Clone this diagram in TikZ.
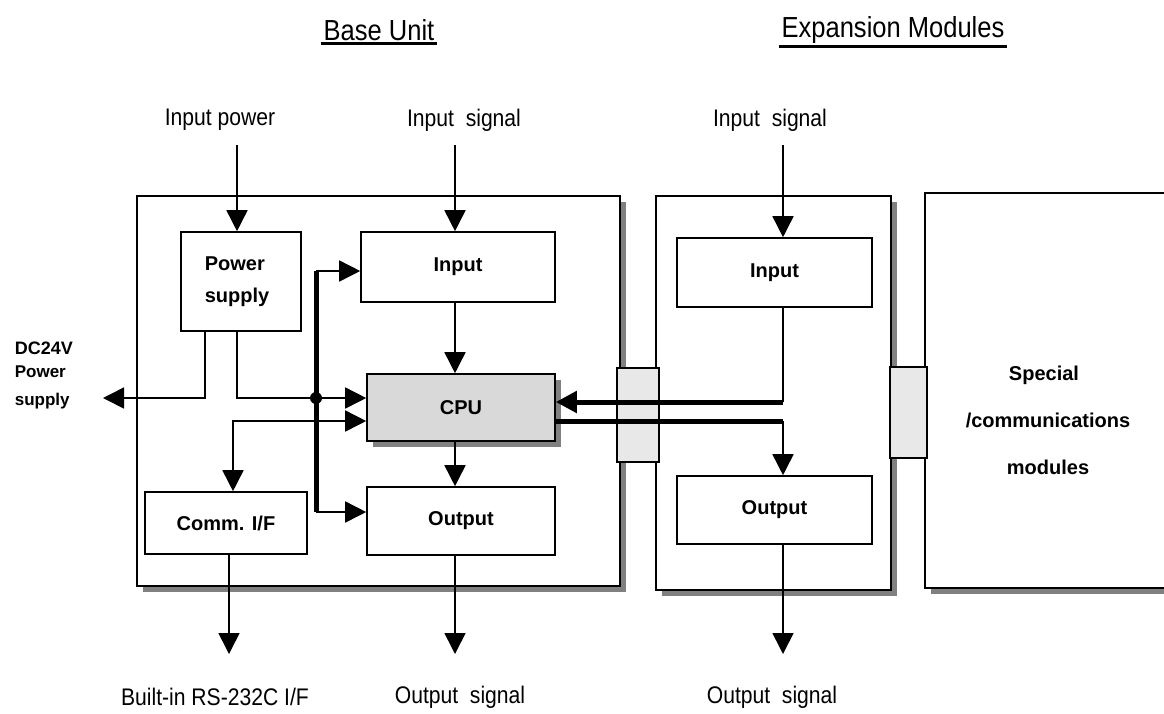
\documentclass[tikz,border=0pt]{standalone}
\usepackage{fontspec}
\setmainfont{Liberation Sans}
\newfontfamily\narrowfont{Liberation Sans}[FakeStretch=0.88]
\usepackage{tikz}
\usetikzlibrary{arrows.meta,shadows}

\begin{document}
\begin{tikzpicture}[x=1pt, y=-1pt, line width=1.6pt,
  box/.style={draw, rectangle, inner sep=0pt, font=\bfseries\fontsize{20}{32}\selectfont},
  shade6/.style={drop shadow={shadow xshift=6pt, shadow yshift=-6pt, fill=black!50, opacity=1}},
  plug/.style={draw, rectangle, inner sep=0pt, fill=black!9},
  arr/.style={-{Triangle[length=21pt,width=21pt]}},
  bus/.style={line width=5pt},
  lbl/.style={font=\narrowfont\fontsize{24}{28}\selectfont},
  ttl/.style={font=\narrowfont\fontsize{29}{32}\selectfont, inner sep=2pt}]
  \useasboundingbox (0,0) rectangle (1164,713);
  % base unit and its blocks
  \node[box, shade6, fill=white, minimum width=483pt, minimum height=390pt] (base) at (378.5,391) {};
  \node[box, minimum width=120pt, minimum height=99pt, align=left] (psu) at (241,281.5) {\hspace*{-8pt}Power\\\hspace*{-8pt}supply};
  \node[box, minimum width=194pt, minimum height=70pt] (inb) at (458,267) {Input};
  \node[box, shade6, fill=black!15, minimum width=188pt, minimum height=67pt] (cpu) at (461,407.5) {CPU};
  \node[box, minimum width=162pt, minimum height=62pt] (comm) at (226,523) {Comm. I/F};
  \node[box, minimum width=188pt, minimum height=68pt] (outb) at (461,521) {Output};
  % expansion module
  \node[box, shade6, fill=white, minimum width=235pt, minimum height=394pt] (exp) at (773.5,393) {};
  \node[box, minimum width=195pt, minimum height=69pt] (inx) at (774.5,272.5) {Input};
  \node[box, minimum width=195pt, minimum height=68pt] (outx) at (774.5,510) {Output};
  \node[box, shade6, fill=white, minimum width=250pt, minimum height=395pt] (spec) at (1050,390.5) {};
  \node[align=center, font=\bfseries\fontsize{20}{47}\selectfont] (spectxt) at (1048,420)
    {\hspace*{-8pt}Special\\/communications\\modules};
  \node[plug, minimum width=42pt, minimum height=94pt] (plugA) at (638,415) {};
  \node[plug, minimum width=37pt, minimum height=91pt] (plugB) at (908.5,412.5) {};

  % titles
  \node[ttl] (tbase) at (379,30) {Base Unit};
  \draw[line width=2.5pt] (tbase.south west) -- (tbase.south east);
  \node[ttl] (texp) at (893,30) {Expansion Modules};
  \draw[line width=2.5pt] (texp.south west) -- (texp.south east);

  % outside labels
  \node[lbl] (lpow) at (220,120) {Input power};
  \node[lbl] (lsig) at (464,120) {Input\ \ signal};
  \node[lbl] (lsigx) at (770,120) {Input\ \ signal};
  \node[lbl] (lrs) at (215,697) {Built-in RS-232C I/F};
  \node[lbl] (losig) at (460,697) {Output\ \ signal};
  \node[lbl] (losigx) at (772,697) {Output\ \ signal};
  \node[font=\bfseries\fontsize{18}{20}\selectfont, anchor=west, inner sep=0pt] (ldc) at (14,348) {DC24V};
  \node[font=\bfseries\fontsize{17}{28}\selectfont, anchor=west, align=left, inner sep=0pt] (lps) at (14,387) {Power\\supply};

  \coordinate (powin) at (237,145);
  \coordinate (sigin) at (455,145);
  \coordinate (sigx) at (783,145);
  \coordinate (dcout) at (103,398);
  \coordinate (bustop) at (316,271);
  \coordinate (busbot) at (316,512);
  \coordinate (rsout) at (229,654);
  \coordinate (oout) at (455,654);
  \coordinate (ooutx) at (783,654);

  % signal lines
  \draw[arr] (powin) -- (powin |- psu.north);
  \draw[arr] (sigin) -- (sigin |- inb.north);
  \draw[arr] (sigx) -- (sigx |- inx.north);
  \draw[arr] ([xshift=-36pt]psu.south) |- (dcout);
  \draw[arr] ([xshift=-4pt]psu.south) |- ([yshift=9.5pt]cpu.west);
  \draw[{Triangle[length=21pt,width=21pt]}-{Triangle[length=21pt,width=21pt]}]
    ([xshift=7pt]comm.north) |- ([yshift=-13.5pt]cpu.west);
  \draw[bus] (bustop) -- (busbot);
  \draw[arr] (bustop) -- (bustop -| inb.west);
  \draw[arr] (busbot) -- (busbot -| outb.west);
  \fill (bustop |- dcout) circle (6pt);
  \draw[arr] (sigin |- inb.south) -- (sigin |- cpu.north);
  \draw[arr] (sigin |- cpu.south) -- (sigin |- outb.north);
  \draw[arr] ([xshift=3pt]comm.south) -- (rsout);
  \draw[arr] (oout |- outb.south) -- (oout);
  \draw[arr] (ooutx |- outx.south) -- (ooutx);
  % buses between cpu and expansion
  \draw (sigx |- inx.south) -- (sigx |- 0,402);
  \draw[bus, arr] (sigx |- 0,402) -- ([yshift=5.5pt]cpu.east);
  \draw[bus] ([yshift=-13.5pt]cpu.east) -- (sigx |- 0,421);
  \draw[arr] (sigx |- 0,421) -- (sigx |- outx.north);
\end{tikzpicture}
\end{document}
